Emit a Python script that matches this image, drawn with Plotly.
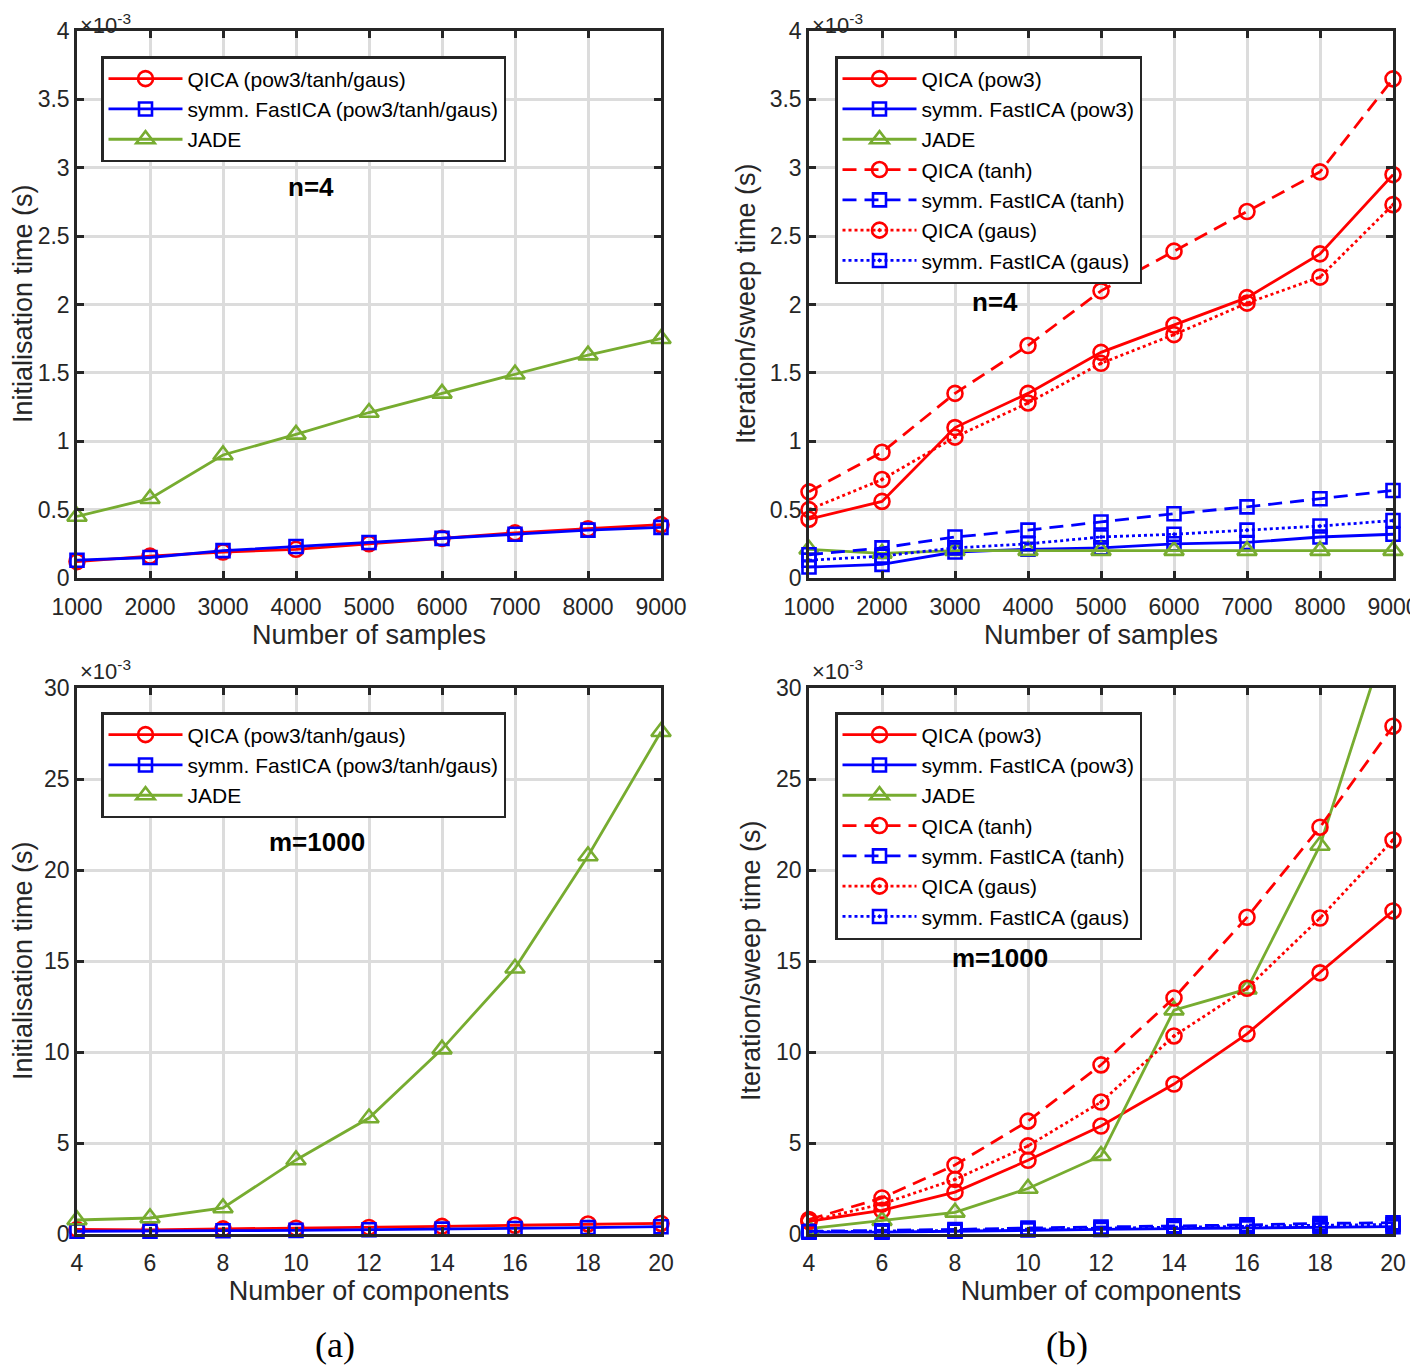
import plotly.graph_objects as go

# x values
SAMPLES = [1000, 2000, 3000, 4000, 5000, 6000, 7000, 8000, 9000]
COMPONENTS = [4, 6, 8, 10, 12, 14, 16, 18, 20]

# (a) top: initialisation time, n=4 (units of 1e-3 s)
INIT_N4_QICA = [0.12, 0.16, 0.19, 0.21, 0.25, 0.29, 0.33, 0.36, 0.39]
INIT_N4_FAST = [0.13, 0.15, 0.20, 0.23, 0.26, 0.29, 0.32, 0.35, 0.37]
INIT_N4_JADE = [0.45, 0.58, 0.90, 1.05, 1.21, 1.35, 1.49, 1.63, 1.75]

# (b) top: iteration/sweep time, n=4 (units of 1e-3 s)
ITER_N4_QICA_POW3 = [0.43, 0.56, 1.10, 1.35, 1.65, 1.85, 2.05, 2.37, 2.95]
ITER_N4_FAST_POW3 = [0.08, 0.10, 0.19, 0.21, 0.22, 0.25, 0.26, 0.30, 0.32]
ITER_N4_JADE = [0.21, 0.18, 0.20, 0.20, 0.20, 0.20, 0.20, 0.20, 0.20]
ITER_N4_QICA_TANH = [0.63, 0.92, 1.35, 1.70, 2.10, 2.39, 2.68, 2.97, 3.65]
ITER_N4_FAST_TANH = [0.17, 0.22, 0.30, 0.35, 0.41, 0.47, 0.52, 0.58, 0.64]
ITER_N4_QICA_GAUS = [0.50, 0.72, 1.03, 1.28, 1.57, 1.78, 2.01, 2.20, 2.73]
ITER_N4_FAST_GAUS = [0.13, 0.16, 0.22, 0.25, 0.30, 0.32, 0.35, 0.38, 0.42]

# (a) bottom: initialisation time, m=1000 (units of 1e-3 s)
INIT_M1000_QICA = [0.25, 0.22, 0.28, 0.32, 0.36, 0.42, 0.48, 0.55, 0.58]
INIT_M1000_FAST = [0.15, 0.15, 0.18, 0.20, 0.23, 0.27, 0.30, 0.35, 0.40]
INIT_M1000_JADE = [0.77, 0.88, 1.43, 4.07, 6.37, 10.16, 14.6, 20.77, 27.6]

# (b) bottom: iteration/sweep time, m=1000 (units of 1e-3 s)
ITER_M1000_QICA_POW3 = [0.7, 1.3, 2.3, 4.05, 5.93, 8.24, 11.0, 14.35, 17.75]
ITER_M1000_FAST_POW3 = [0.10, 0.10, 0.15, 0.22, 0.25, 0.30, 0.33, 0.38, 0.40]
ITER_M1000_JADE = [0.3, 0.73, 1.19, 2.5, 4.3, 12.3, 13.45, 21.35, 33.8]
ITER_M1000_QICA_TANH = [0.8, 1.98, 3.79, 6.2, 9.29, 12.97, 17.4, 22.35, 27.9]
ITER_M1000_FAST_TANH = [0.15, 0.18, 0.25, 0.33, 0.38, 0.45, 0.50, 0.58, 0.62]
ITER_M1000_QICA_GAUS = [0.7, 1.65, 3.0, 4.84, 7.25, 10.88, 13.5, 17.36, 21.65]
ITER_M1000_FAST_GAUS = [0.12, 0.14, 0.20, 0.27, 0.31, 0.38, 0.42, 0.48, 0.52]

RED = "#ff0000"
BLUE = "#0000ff"
GREEN = "#77ac30"
INK = "#262626"
FONT = "Liberation Sans"
DASH = "14px,8px"

W, H = 1418, 1365
OFF = 8  # page body margin, the figure is drawn 8px in from the corner


def px_x(p):
    return (p - OFF) / W


def px_y(p):
    return 1 - (p - OFF) / H


def series(x, y, name, color, symbol, size, dash, xa, ya, legend, clip=False):
    return go.Scatter(
        x=x, y=y, name=name, mode="lines+markers",
        line=dict(color=color, width=2.8, dash=dash),
        marker=dict(symbol=symbol, size=size, color=color,
                    line=dict(color=color, width=2.6)),
        xaxis=xa, yaxis=ya, legend=legend, cliponaxis=clip,
    )


fig = go.Figure()

# top-left
fig.add_trace(series(SAMPLES, INIT_N4_QICA, "QICA (pow3/tanh/gaus)", RED, "circle-open", 15, "solid", "x", "y", "legend"))
fig.add_trace(series(SAMPLES, INIT_N4_FAST, "symm. FastICA (pow3/tanh/gaus)", BLUE, "square-open", 13, "solid", "x", "y", "legend"))
fig.add_trace(series(SAMPLES, INIT_N4_JADE, "JADE", GREEN, "triangle-up-open", 17, "solid", "x", "y", "legend"))

# top-right
fig.add_trace(series(SAMPLES, ITER_N4_QICA_POW3, "QICA (pow3)", RED, "circle-open", 15, "solid", "x2", "y2", "legend2"))
fig.add_trace(series(SAMPLES, ITER_N4_FAST_POW3, "symm. FastICA (pow3)", BLUE, "square-open", 13, "solid", "x2", "y2", "legend2"))
fig.add_trace(series(SAMPLES, ITER_N4_JADE, "JADE", GREEN, "triangle-up-open", 17, "solid", "x2", "y2", "legend2"))
fig.add_trace(series(SAMPLES, ITER_N4_QICA_TANH, "QICA (tanh)", RED, "circle-open", 15, DASH, "x2", "y2", "legend2"))
fig.add_trace(series(SAMPLES, ITER_N4_FAST_TANH, "symm. FastICA (tanh)", BLUE, "square-open", 13, DASH, "x2", "y2", "legend2"))
fig.add_trace(series(SAMPLES, ITER_N4_QICA_GAUS, "QICA (gaus)", RED, "circle-open-dot", 15, "dot", "x2", "y2", "legend2"))
fig.add_trace(series(SAMPLES, ITER_N4_FAST_GAUS, "symm. FastICA (gaus)", BLUE, "square-open-dot", 13, "dot", "x2", "y2", "legend2"))

# bottom-left
fig.add_trace(series(COMPONENTS, INIT_M1000_QICA, "QICA (pow3/tanh/gaus)", RED, "circle-open", 15, "solid", "x3", "y3", "legend3"))
fig.add_trace(series(COMPONENTS, INIT_M1000_FAST, "symm. FastICA (pow3/tanh/gaus)", BLUE, "square-open", 13, "solid", "x3", "y3", "legend3"))
fig.add_trace(series(COMPONENTS, INIT_M1000_JADE, "JADE", GREEN, "triangle-up-open", 17, "solid", "x3", "y3", "legend3"))

# bottom-right
fig.add_trace(series(COMPONENTS, ITER_M1000_QICA_POW3, "QICA (pow3)", RED, "circle-open", 15, "solid", "x4", "y4", "legend4"))
fig.add_trace(series(COMPONENTS, ITER_M1000_FAST_POW3, "symm. FastICA (pow3)", BLUE, "square-open", 13, "solid", "x4", "y4", "legend4"))
fig.add_trace(series(COMPONENTS, ITER_M1000_JADE, "JADE", GREEN, "triangle-up-open", 17, "solid", "x4", "y4", "legend4", clip=True))
fig.add_trace(series(COMPONENTS, ITER_M1000_QICA_TANH, "QICA (tanh)", RED, "circle-open", 15, DASH, "x4", "y4", "legend4"))
fig.add_trace(series(COMPONENTS, ITER_M1000_FAST_TANH, "symm. FastICA (tanh)", BLUE, "square-open", 13, DASH, "x4", "y4", "legend4"))
fig.add_trace(series(COMPONENTS, ITER_M1000_QICA_GAUS, "QICA (gaus)", RED, "circle-open-dot", 15, "dot", "x4", "y4", "legend4"))
fig.add_trace(series(COMPONENTS, ITER_M1000_FAST_GAUS, "symm. FastICA (gaus)", BLUE, "square-open-dot", 13, "dot", "x4", "y4", "legend4"))

# axes
left_dom = [px_x(77), px_x(661)]
right_dom = [px_x(809), px_x(1393)]
top_dom = [px_y(578), px_y(31)]
bot_dom = [px_y(1234), px_y(688)]

common = dict(
    showline=True, linecolor=INK, linewidth=2.5, mirror="ticks",
    ticks="inside", ticklen=7, tickwidth=2.5, tickcolor=INK,
    showgrid=True, gridcolor="#dcdcdc", gridwidth=2.5, zeroline=False,
    automargin=False,
    tickfont=dict(family=FONT, size=23, color=INK),
    title_font=dict(family=FONT, size=27, color=INK),
)

sample_ticks = dict(range=[1000, 9000], tickvals=SAMPLES, title_text="Number of samples",
                    title_standoff=2, ticklabelstandoff=7)
comp_ticks = dict(range=[4, 20], tickvals=COMPONENTS, title_text="Number of components",
                  title_standoff=2, ticklabelstandoff=7)
top_y = dict(range=[0, 4], tickvals=[0, 0.5, 1, 1.5, 2, 2.5, 3, 3.5, 4])
bot_y = dict(range=[0, 30], tickvals=[0, 5, 10, 15, 20, 25, 30])

fig.update_layout(
    xaxis=dict(domain=left_dom, anchor="y", **sample_ticks, **common),
    yaxis=dict(domain=top_dom, anchor="x", **top_y, **common),
    xaxis2=dict(domain=right_dom, anchor="y2", **sample_ticks, **common),
    yaxis2=dict(domain=top_dom, anchor="x2", **top_y, **common),
    xaxis3=dict(domain=left_dom, anchor="y3", **comp_ticks, **common),
    yaxis3=dict(domain=bot_dom, anchor="x3", **bot_y, **common),
    xaxis4=dict(domain=right_dom, anchor="y4", **comp_ticks, **common),
    yaxis4=dict(domain=bot_dom, anchor="x4", **bot_y, **common),
)

legend_style = dict(
    bgcolor="white", bordercolor=INK, borderwidth=2.5,
    font=dict(family=FONT, size=21, color="black"),
    xanchor="left", yanchor="top", itemwidth=74, tracegroupgap=0,
)
fig.update_layout(
    legend=dict(x=px_x(101), y=px_y(56), **legend_style),
    legend2=dict(x=px_x(835), y=px_y(56), **legend_style),
    legend3=dict(x=px_x(101), y=px_y(712), **legend_style),
    legend4=dict(x=px_x(835), y=px_y(712), **legend_style),
)

annotations = []

# x10^-3 exponent labels
for xp in (78, 810):
    annotations.append(dict(
        x=px_x(xp), y=1, xref="paper", yref="paper",
        xanchor="left", yanchor="top", showarrow=False,
        text="\u00d710<sup>-3</sup>", font=dict(family=FONT, size=22, color=INK),
    ))
    annotations.append(dict(
        x=px_x(xp), y=px_y(686), xref="paper", yref="paper",
        xanchor="left", yanchor="bottom", showarrow=False,
        text="\u00d710<sup>-3</sup>", font=dict(family=FONT, size=22, color=INK),
    ))

# y axis titles
for text, xp, yp in [("Initialisation time (s)", 23, 304), ("Iteration/sweep time (s)", 746, 304),
                     ("Initialisation time (s)", 23, 961), ("Iteration/sweep time (s)", 751, 961)]:
    annotations.append(dict(
        x=px_x(xp), y=px_y(yp), xref="paper", yref="paper",
        xanchor="center", yanchor="middle", textangle=-90,
        showarrow=False, text=text,
        font=dict(family=FONT, size=27, color=INK),
    ))

for text, xp, yp in [("n=4", 311, 187), ("n=4", 995, 302), ("m=1000", 317, 842), ("m=1000", 1000, 958)]:
    annotations.append(dict(
        x=px_x(xp), y=px_y(yp), xref="paper", yref="paper",
        xanchor="center", yanchor="middle",
        showarrow=False, text="<b>%s</b>" % text,
        font=dict(family=FONT, size=26, color="black"),
    ))

for text, xp in [("(a)", 335), ("(b)", 1067)]:
    annotations.append(dict(
        x=px_x(xp), y=px_y(1345), xref="paper", yref="paper",
        xanchor="center", yanchor="middle",
        showarrow=False, text=text,
        font=dict(family="Liberation Serif", size=36, color="black"),
    ))

fig.update_layout(
    width=W, height=H,
    margin=dict(l=0, r=0, t=0, b=0),
    paper_bgcolor="white", plot_bgcolor="white",
    annotations=annotations,
    showlegend=True,
)

fig.write_html("out.html")
